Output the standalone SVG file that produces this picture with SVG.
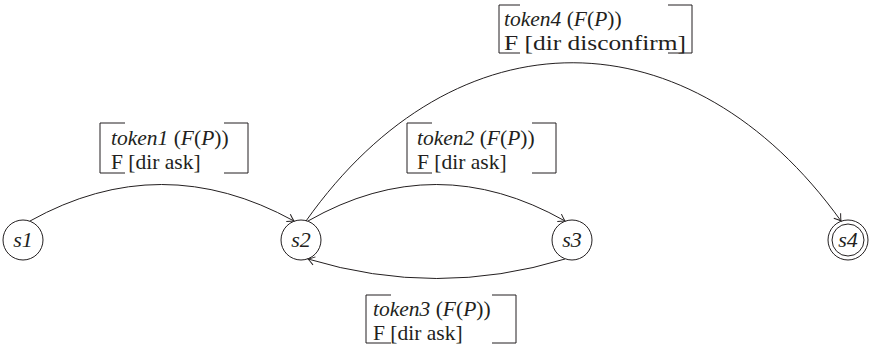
<svg xmlns="http://www.w3.org/2000/svg" width="871" height="346" viewBox="0 0 871 346">
  <style>
    .state { fill: none; stroke: #231f20; stroke-width: 1; }
    .edge { fill: none; stroke: #231f20; stroke-width: 1; marker-end: url(#tip); }
    .bracket { fill: none; stroke: #231f20; stroke-width: 1; }
    .lbl { font-family: "Liberation Serif", "Times New Roman", serif; font-size: 21.5px; fill: #231f20; }
    .name { font-family: "Liberation Serif", "Times New Roman", serif; font-size: 22px; font-style: italic; fill: #231f20; text-anchor: middle; }
    .it { font-style: italic; }
  </style>
  <defs>
    <marker id="tip" markerUnits="userSpaceOnUse" markerWidth="12" markerHeight="12" viewBox="-8 -6 10 12" refX="0" refY="0" orient="auto">
      <path d="M-6.5,-4.2 Q-2,-1 0,0 Q-2,1 -6.5,4.2" fill="none" stroke="#231f20" stroke-width="1"/>
    </marker>
  </defs>

  <!-- transitions -->
  <g id="connectors">
    <path class="edge" d="M30,221 Q161,148 294,221"/>
    <path class="edge" d="M308,221 Q436,148 565,221"/>
    <path class="edge" d="M565,259 Q437,298 308,259"/>
    <path class="edge" d="M306,221 C456,9 690,11 841,221"/>
  </g>

  <!-- states -->
  <g id="s1">
    <circle class="state" cx="23" cy="240" r="20"/>
    <text class="name" x="23" y="247">s1</text>
  </g>
  <g id="s2">
    <circle class="state" cx="301" cy="240" r="20"/>
    <text class="name" x="301" y="247">s2</text>
  </g>
  <g id="s3">
    <circle class="state" cx="572" cy="240" r="20"/>
    <text class="name" x="572" y="247">s3</text>
  </g>
  <g id="s4">
    <circle class="state" cx="848" cy="240" r="20"/>
    <circle class="state" cx="848" cy="240" r="16"/>
    <text class="name" x="848" y="247">s4</text>
  </g>

  <!-- transition labels -->
  <g id="label-token1">
    <path class="bracket" d="M125,123 H100 V173 H125 M224,123 H248 V173 H224"/>
    <text class="lbl" x="111" y="145"><tspan class="it">token1</tspan> (<tspan class="it">F</tspan>(<tspan class="it">P</tspan>))</text>
    <text class="lbl" x="111" y="169">F [dir ask]</text>
  </g>
  <g id="label-token2">
    <path class="bracket" d="M432,123 H407 V173 H432 M532,123 H556 V173 H532"/>
    <text class="lbl" x="417" y="145"><tspan class="it">token2</tspan> (<tspan class="it">F</tspan>(<tspan class="it">P</tspan>))</text>
    <text class="lbl" x="417" y="169">F [dir ask]</text>
  </g>
  <g id="label-token3">
    <path class="bracket" d="M391,295 H366 V343 H391 M492,295 H516 V343 H492"/>
    <text class="lbl" x="373" y="316"><tspan class="it">token3</tspan> (<tspan class="it">F</tspan>(<tspan class="it">P</tspan>))</text>
    <text class="lbl" x="373" y="340">F [dir ask]</text>
  </g>
  <g id="label-token4">
    <path class="bracket" d="M520,5 H499 V53 H520 M668,5 H692 V53 H668"/>
    <text class="lbl" x="504" y="26"><tspan class="it">token4</tspan> (<tspan class="it">F</tspan>(<tspan class="it">P</tspan>))</text>
    <text class="lbl" x="504" y="50" textLength="182" lengthAdjust="spacingAndGlyphs">F [dir disconfirm]</text>
  </g>
</svg>
